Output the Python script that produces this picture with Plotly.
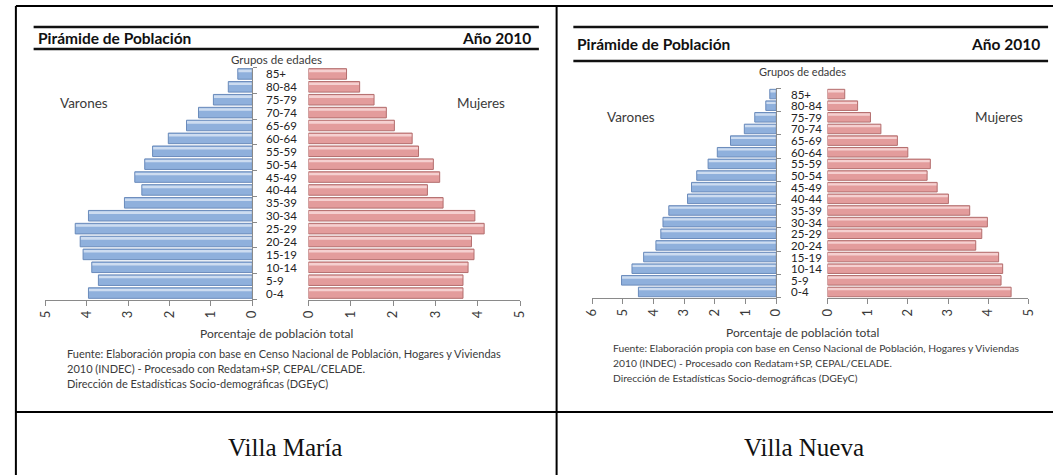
import plotly.graph_objects as go

# Age groups, bottom (0-4) to top (85+)
grupos = ["0-4", "5-9", "10-14", "15-19", "20-24", "25-29", "30-34", "35-39",
          "40-44", "45-49", "50-54", "55-59", "60-64", "65-69", "70-74",
          "75-79", "80-84", "85+"]

# Villa María, % of total population
vm_varones = [3.96, 3.72, 3.88, 4.09, 4.16, 4.28, 3.96, 3.09, 2.67, 2.84,
              2.60, 2.41, 2.03, 1.59, 1.30, 0.94, 0.58, 0.35]
vm_mujeres = [3.65, 3.65, 3.77, 3.91, 3.85, 4.15, 3.93, 3.18, 2.81, 3.10,
              2.95, 2.60, 2.45, 2.03, 1.84, 1.55, 1.21, 0.90]

# Villa Nueva, % of total population
vn_varones = [4.49, 5.04, 4.70, 4.32, 3.92, 3.76, 3.69, 3.50, 2.89, 2.76,
              2.59, 2.22, 1.92, 1.49, 1.04, 0.70, 0.34, 0.21]
vn_mujeres = [4.57, 4.32, 4.36, 4.26, 3.69, 3.84, 3.98, 3.54, 3.01, 2.73,
              2.48, 2.56, 2.00, 1.74, 1.33, 1.07, 0.75, 0.43]

ticks_vm_v = [0, 1, 2, 3, 4, 5]
ticks_vm_m = [0, 1, 2, 3, 4, 5]
ticks_vn_v = [0, 1, 2, 3, 4, 5, 6]
ticks_vn_m = [0, 1, 2, 3, 4, 5]

W, H = 1060, 475
FONT = "Lato"
TXT = "#3a3a3a"
AXC = "#8a8a8a"


def px(x):
    return x / W


def py(y):
    return 1 - y / H


BLUE = dict(fill="#8fb0dc", hi="#cddcf0", edge="#6a8bbb")
PINK = dict(fill="#e39c9c", hi="#f5d0d0", edge="#b36e6e")

fig = go.Figure()


def add_side(values, xa, ya, col):
    # body
    fig.add_trace(go.Bar(x=values, y=grupos, orientation="h", xaxis=xa, yaxis=ya,
                         width=0.82, marker=dict(color=col["fill"], line=dict(width=0)),
                         hoverinfo="skip", showlegend=False))
    # light sheen along the upper edge
    fig.add_trace(go.Bar(x=values, y=grupos, orientation="h", xaxis=xa, yaxis=ya,
                         width=0.2, offset=0.14,
                         marker=dict(color=col["hi"], line=dict(width=0)),
                         hoverinfo="skip", showlegend=False))
    # outline
    fig.add_trace(go.Bar(x=values, y=grupos, orientation="h", xaxis=xa, yaxis=ya,
                         width=0.82, marker=dict(color="rgba(0,0,0,0)",
                                                 line=dict(width=1, color=col["edge"])),
                         hoverinfo="skip", showlegend=False))


add_side(vm_varones, "x", "y", BLUE)
add_side(vm_mujeres, "x2", "y", PINK)
add_side(vn_varones, "x3", "y2", BLUE)
add_side(vn_mujeres, "x4", "y2", PINK)


def xaxis(x0, x1, rng, tv, anchor):
    return dict(domain=[px(x0), px(x1)], range=rng, anchor=anchor,
                tickmode="array", tickvals=tv, ticktext=[str(t) for t in tv],
                tickangle=-90, ticks="outside", ticklen=5, tickcolor=AXC,
                showline=True, linecolor=AXC, linewidth=1,
                showgrid=False, zeroline=False, fixedrange=True,
                tickfont=dict(family=FONT, size=13, color=TXT))


def yaxis(y_top, y_bot, anchor):
    return dict(domain=[py(y_bot), py(y_top)], anchor=anchor, side="right",
                type="category", categoryorder="array", categoryarray=grupos,
                range=[-0.5, len(grupos) - 0.5],
                showline=True, linecolor=AXC, linewidth=1,
                ticks="outside", ticklen=4, tickcolor=AXC, tickson="boundaries",
                showticklabels=False, showgrid=False, zeroline=False, fixedrange=True)


fig.update_layout(
    width=W, height=H, margin=dict(l=0, r=0, t=0, b=0),
    paper_bgcolor="white", plot_bgcolor="rgba(0,0,0,0)",
    barmode="overlay", showlegend=False,
    xaxis=xaxis(37, 247, [5, 0], ticks_vm_v, "y"),
    xaxis2=xaxis(304, 519, [0, 5], ticks_vm_m, "y"),
    yaxis=yaxis(67.5, 299.5, "x"),
    xaxis3=xaxis(592, 779, [6, 0], ticks_vn_v, "y2"),
    xaxis4=xaxis(831, 1035, [0, 5], ticks_vn_m, "y2"),
    yaxis2=yaxis(88.2, 297.8, "x3"),
)

ann = []


def text(x, y, s, size, anchor="left", color=TXT, bold=False, family=FONT, yanchor="middle"):
    ann.append(dict(x=px(x), y=py(y), xref="paper", yref="paper", text=f"<b>{s}</b>" if bold else s,
                    showarrow=False, xanchor=anchor, yanchor=yanchor,
                    font=dict(family=family, size=size, color=color)))


fuente = ["Fuente: Elaboración propia con base en Censo Nacional de Población, Hogares y Viviendas",
          "2010 (INDEC) - Procesado con Redatam+SP, CEPAL/CELADE.",
          "Dirección de Estadísticas Socio-demográficas (DGEyC)"]

# Villa María panel
text(27, 38, "Pirámide de Población", 15.5, bold=True, color="#111")
text(532, 38, "Año 2010", 15.5, anchor="right", bold=True, color="#111")
text(272, 60, "Grupos de edades", 11.5, anchor="center")
text(50, 103, "Varones", 13.5)
text(506, 103, "Mujeres", 13.5, anchor="right")
text(272, 333, "Porcentaje de población total", 12, anchor="center")
for i, line in enumerate(fuente):
    text(57, 353 + 15 * i, line, 11)
for i, g in enumerate(grupos):
    ann.append(dict(x=px(259), y=i, xref="paper", yref="y", text=g, showarrow=False,
                    xanchor="left", yanchor="middle",
                    font=dict(family=FONT, size=11.5, color="#222")))

# Villa Nueva panel
text(575, 44, "Pirámide de Población", 15.5, bold=True, color="#111")
text(1049, 44, "Año 2010", 15.5, anchor="right", bold=True, color="#111")
text(806, 71, "Grupos de edades", 11, anchor="center")
text(605, 117, "Varones", 13.5)
text(1032, 117, "Mujeres", 13.5, anchor="right")
text(806, 332, "Porcentaje de población total", 12, anchor="center")
for i, line in enumerate(fuente):
    text(611, 348 + 15 * i, line, 10.3)
for i, g in enumerate(grupos):
    ann.append(dict(x=px(792), y=i, xref="paper", yref="y2", text=g, showarrow=False,
                    xanchor="left", yanchor="middle",
                    font=dict(family=FONT, size=11.5, color="#222")))

# Captions
text(280, 447, "Villa María", 25, anchor="center", color="#111", family="Liberation Serif")
text(807, 447, "Villa Nueva", 25, anchor="center", color="#111", family="Liberation Serif")

fig.update_layout(annotations=ann)

# Table borders and title rules
shapes = []


def line(x0, y0, x1, y1, w=2, color="black"):
    shapes.append(dict(type="line", xref="paper", yref="paper",
                       x0=px(x0), y0=py(y0), x1=px(x1), y1=py(y1),
                       line=dict(color=color, width=w)))


line(7, 6, W, 6)
line(7, 6, 7, H)
line(556, 6, 556, H)
line(7, 412, W, 412)
line(25, 27, 538, 27, w=2.5, color="#111")
line(25, 49, 538, 49, w=2.5, color="#111")
line(573, 27, 1055, 27, w=2.5, color="#111")
line(573, 61, 1055, 61, w=2.5, color="#111")
fig.update_layout(shapes=shapes)

fig.write_html("out.html", post_script="document.body.style.margin='0';")
